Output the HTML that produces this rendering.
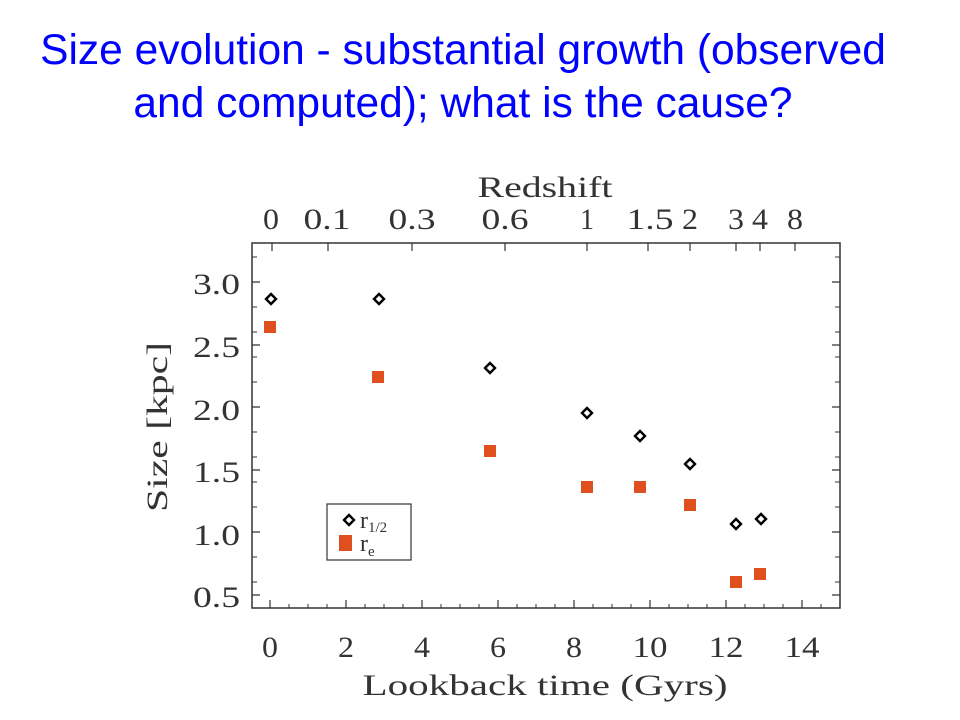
<!DOCTYPE html>
<html><head><meta charset="utf-8"><style>
body{margin:0;background:#fff;width:960px;height:720px;overflow:hidden}
.t{position:absolute;left:-17px;width:960px;text-align:center;color:#0000ff;font-family:"Liberation Sans",sans-serif;font-size:42.5px;line-height:53px;white-space:nowrap}
</style></head><body>
<div class="t" style="top:24px">Size evolution - substantial growth (observed</div>
<div class="t" style="top:77px">and computed); what is the cause?</div>
<svg width="960" height="720" style="position:absolute;left:0;top:0" font-family="Liberation Serif,serif" fill="#333">
<rect x="252" y="243" width="588" height="365" fill="none" stroke="#333" stroke-width="1.5"/>
<g font-size="30" text-anchor="middle">
<text x="270" y="657" textLength="16" lengthAdjust="spacingAndGlyphs">0</text>
<text x="346" y="657" textLength="16" lengthAdjust="spacingAndGlyphs">2</text>
<text x="422" y="657" textLength="16" lengthAdjust="spacingAndGlyphs">4</text>
<text x="498" y="657" textLength="16" lengthAdjust="spacingAndGlyphs">6</text>
<text x="574" y="657" textLength="16" lengthAdjust="spacingAndGlyphs">8</text>
<text x="650" y="657" textLength="35" lengthAdjust="spacingAndGlyphs">10</text>
<text x="726" y="657" textLength="35" lengthAdjust="spacingAndGlyphs">12</text>
<text x="802" y="657" textLength="35" lengthAdjust="spacingAndGlyphs">14</text>
<text x="545" y="695" textLength="365" lengthAdjust="spacingAndGlyphs">Lookback time (Gyrs)</text>
<text x="545" y="197" textLength="135" lengthAdjust="spacingAndGlyphs">Redshift</text>
<text x="271" y="229" textLength="16" lengthAdjust="spacingAndGlyphs">0</text>
<text x="327" y="229" textLength="47" lengthAdjust="spacingAndGlyphs">0.1</text>
<text x="412" y="229" textLength="47" lengthAdjust="spacingAndGlyphs">0.3</text>
<text x="505" y="229" textLength="47" lengthAdjust="spacingAndGlyphs">0.6</text>
<text x="587" y="229" textLength="14" lengthAdjust="spacingAndGlyphs">1</text>
<text x="650" y="229" textLength="47" lengthAdjust="spacingAndGlyphs">1.5</text>
<text x="690" y="229" textLength="16" lengthAdjust="spacingAndGlyphs">2</text>
<text x="736" y="229" textLength="16" lengthAdjust="spacingAndGlyphs">3</text>
<text x="760" y="229" textLength="16" lengthAdjust="spacingAndGlyphs">4</text>
<text x="795" y="229" textLength="16" lengthAdjust="spacingAndGlyphs">8</text>
</g>
<g font-size="30" text-anchor="end">
<text x="240" y="294" textLength="47" lengthAdjust="spacingAndGlyphs">3.0</text>
<text x="240" y="357" textLength="47" lengthAdjust="spacingAndGlyphs">2.5</text>
<text x="240" y="420" textLength="47" lengthAdjust="spacingAndGlyphs">2.0</text>
<text x="240" y="482" textLength="47" lengthAdjust="spacingAndGlyphs">1.5</text>
<text x="240" y="545" textLength="47" lengthAdjust="spacingAndGlyphs">1.0</text>
<text x="240" y="607" textLength="47" lengthAdjust="spacingAndGlyphs">0.5</text>
</g>
<text font-size="30" text-anchor="middle" transform="translate(167,427) rotate(-90)" textLength="170" lengthAdjust="spacingAndGlyphs">Size [kpc]</text>
<g fill="#e0501e">
<rect x="264" y="321" width="12" height="12"/><rect x="372" y="371" width="12" height="12"/><rect x="484" y="445" width="12" height="12"/><rect x="581" y="481" width="12" height="12"/><rect x="634" y="481" width="12" height="12"/><rect x="684" y="499" width="12" height="12"/><rect x="730" y="576" width="12" height="12"/><rect x="754" y="568" width="12" height="12"/>
</g>
<g fill="none" stroke="#000" stroke-width="2.4">
<path d="M271 294l5 5-5 5-5-5z"/><path d="M379 294l5 5-5 5-5-5z"/><path d="M490 363l5 5-5 5-5-5z"/><path d="M587 408l5 5-5 5-5-5z"/><path d="M640 431l5 5-5 5-5-5z"/><path d="M690 459l5 5-5 5-5-5z"/><path d="M736 519l5 5-5 5-5-5z"/><path d="M761 514l5 5-5 5-5-5z"/>
<path d="M349 515l5 5-5 5-5-5z"/>
</g>
<rect x="327" y="504" width="84" height="56" fill="none" stroke="#333" stroke-width="1.2"/>
<rect x="339" y="535" width="13" height="16" fill="#e0501e"/>
<text x="360" y="528" font-size="24">r<tspan font-size="15" dy="4">1/2</tspan></text>
<text x="360" y="551" font-size="24">r<tspan font-size="15" dy="5">e</tspan></text>
<g stroke="#333" stroke-width="1.2" fill="none">
<path d="
M270 608v-8M346 608v-8M422 608v-8M498 608v-8M574 608v-8M650 608v-8M726 608v-8M802 608v-8
M272 243v8M328 243v8M412 243v8M505 243v8M587 243v8M648 243v8M690 243v8M736 243v8M760 243v8M795 243v8
M252 282h8M252 345h8M252 407h8M252 470h8M252 532h8M252 595h8
M840 282h-8M840 345h-8M840 407h-8M840 470h-8M840 532h-8M840 595h-8"/>
<path stroke-width="1" d="
M289 608v-4M308 608v-4M327 608v-4M365 608v-4M384 608v-4M403 608v-4M441 608v-4M460 608v-4M479 608v-4M517 608v-4M536 608v-4M555 608v-4M593 608v-4M612 608v-4M631 608v-4M669 608v-4M688 608v-4M707 608v-4M745 608v-4M764 608v-4M783 608v-4M821 608v-4
M252 257h5M252 307h5M252 332h5M252 357h5M252 382h5M252 432h5M252 457h5M252 482h5M252 507h5M252 557h5M252 582h5
M840 257h-5M840 307h-5M840 332h-5M840 357h-5M840 382h-5M840 432h-5M840 457h-5M840 482h-5M840 507h-5M840 557h-5M840 582h-5"/>
</g>
</svg>
</body></html>
